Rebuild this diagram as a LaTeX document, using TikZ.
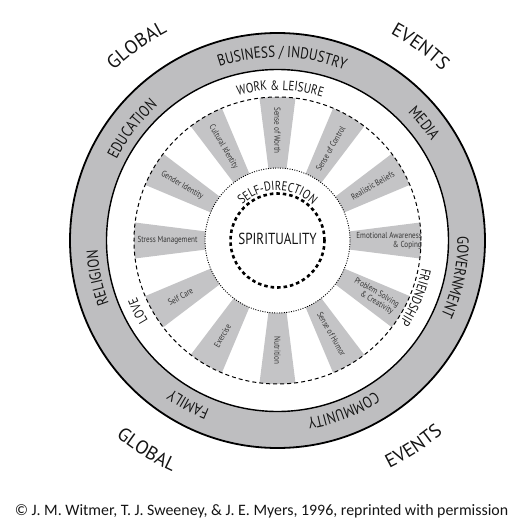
\documentclass[tikz,border=0pt]{standalone}
\usepackage{fontspec}
\setmainfont{PT Sans}
\newfontfamily\lab{PT Sans}[FakeStretch=0.82]
\newfontfamily\cred{Carlito}
\usetikzlibrary{decorations.text}
\definecolor{ringgray}{RGB}{190,190,192}
\definecolor{spokegray}{RGB}{196,196,198}
\definecolor{ink}{RGB}{20,20,20}
% radius, centre angle, half span, font, text  (clockwise, tops outward)
\newcommand\cwtext[5]{%
  \path[decorate,decoration={text along path,text align=center,text color=ink,text={|#4|#5}}]
    ({#2+#3}:#1) arc[start angle={#2+#3},end angle={#2-#3},radius=#1];}
% counter-clockwise, tops inward
\newcommand\ccwtext[5]{%
  \path[decorate,decoration={text along path,text align=center,text color=ink,text={|#4|#5}}]
    ({#2-#3}:#1) arc[start angle={#2-#3},end angle={#2+#3},radius=#1];}
\begin{document}
\begin{tikzpicture}[x=1pt,y=1pt,
  spk/.style={font=\lab\fontsize{8.7}{9}\selectfont,text=ink!85,inner sep=0pt}]
\useasboundingbox (-277.5,-282.5) rectangle (237.5,240.5);
% outer gray ring
\fill[ringgray,even odd rule] (0,0) circle[radius=207.5] (0,0) circle[radius=171];
\draw[line width=1.8pt] (0,0) circle[radius=207.5];
\draw[line width=1.4pt] (0,0) circle[radius=171];
% spokes
\foreach \a in {0,30,...,330}{
  \fill[spokegray] ({\a-7.2}:72.5) -- ({\a-7.2}:143.5)
     arc[start angle={\a-7.2},end angle={\a+7.2},radius=143.5]
     -- ({\a+7.2}:72.5)
     arc[start angle={\a+7.2},end angle={\a-7.2},radius=72.5] -- cycle;
}
% circles
\draw[line width=1pt,dash pattern=on 4pt off 3pt] (0,0) circle[radius=143.5];
\draw[line width=0.9pt,dash pattern=on 1pt off 1.4pt] (0,0) circle[radius=72.5];
\draw[line width=2.6pt,dash pattern=on 3.5pt off 3pt] (0,0) circle[radius=47];
% spoke labels
\node[spk,rotate=-90] (worth) at (90:110) {Sense of Worth};
\node[spk,rotate=60] (control) at (60:106) {Sense of Control};
\node[spk,rotate=30] (beliefs) at (30:110) {Realistic Beliefs};
\node[spk,align=right,anchor=east] (emot) at (144.5,0) {Emotional Awareness\\\& Coping};
\node[spk,rotate=-30,align=center] (probl) at (-30:112) {Problem Solving\\\hspace*{1.2em}\& Creativity};
\node[spk,rotate=-60] (humor) at (-60:108) {Sense of Humor};
\node[spk,rotate=-90] (nutr) at (-90:110) {Nutrition};
\node[spk,rotate=60] (exer) at (240:110) {Exercise};
\node[spk,rotate=30] (selfcare) at (210:112) {Self Care};
\node[spk] (stress) at (180:110) {Stress Management};
\node[spk,rotate=-30] (gender) at (150:110) {Gender Identity};
\node[spk,rotate=-60] (cult) at (120:108) {Cultural Identity};
% centre
\node[font=\lab\fontsize{16}{16}\selectfont,text=ink] (spirit) at (0,2) {SPIRITUALITY};
\cwtext{50}{90}{80}{\lab\fontsize{13}{13}\selectfont}{SELF-DIRECTION}
% inner labels
\cwtext{150.5}{89}{50}{\lab\fontsize{13.5}{13.5}\selectfont}{WORK {\&} LEISURE}
\cwtext{147}{-22.3}{50}{\lab\fontsize{13.5}{13.5}\selectfont}{FRIENDSHIP}
\cwtext{152}{206.8}{40}{\lab\fontsize{13.5}{13.5}\selectfont}{LOVE}
% ring labels
\cwtext{183}{88.5}{60}{\lab\fontsize{16}{16}\selectfont}{BUSINESS / INDUSTRY}
\cwtext{183}{38.7}{40}{\lab\fontsize{16}{16}\selectfont}{MEDIA}
\cwtext{180}{-11.6}{50}{\lab\fontsize{16}{16}\selectfont}{GOVERNMENT}
\cwtext{180}{-68.8}{50}{\lab\fontsize{16}{16}\selectfont}{COMMUNITY}
\cwtext{182}{241.4}{40}{\lab\fontsize{16}{16}\selectfont}{FAMILY}
\cwtext{180}{191.7}{50}{\lab\fontsize{16}{16}\selectfont}{RELIGION}
\cwtext{180}{142.5}{50}{\lab\fontsize{16}{16}\selectfont}{EDUCATION}
% outer labels
\cwtext{236}{125.8}{30}{\fontsize{19}{19}\selectfont}{GLOBAL}
\cwtext{236}{53.6}{30}{\fontsize{19}{19}\selectfont}{EVENTS}
\ccwtext{254}{238}{30}{\fontsize{19}{19}\selectfont}{GLOBAL}
\ccwtext{254}{303.4}{30}{\fontsize{19}{19}\selectfont}{EVENTS}
% credit
\node[font=\cred\fontsize{15.9}{15.9}\selectfont,text=ink] (credit) at (-16,-270.5) {© J. M. Witmer, T. J. Sweeney, \& J. E. Myers, 1996, reprinted with permission};
\end{tikzpicture}
\end{document}
